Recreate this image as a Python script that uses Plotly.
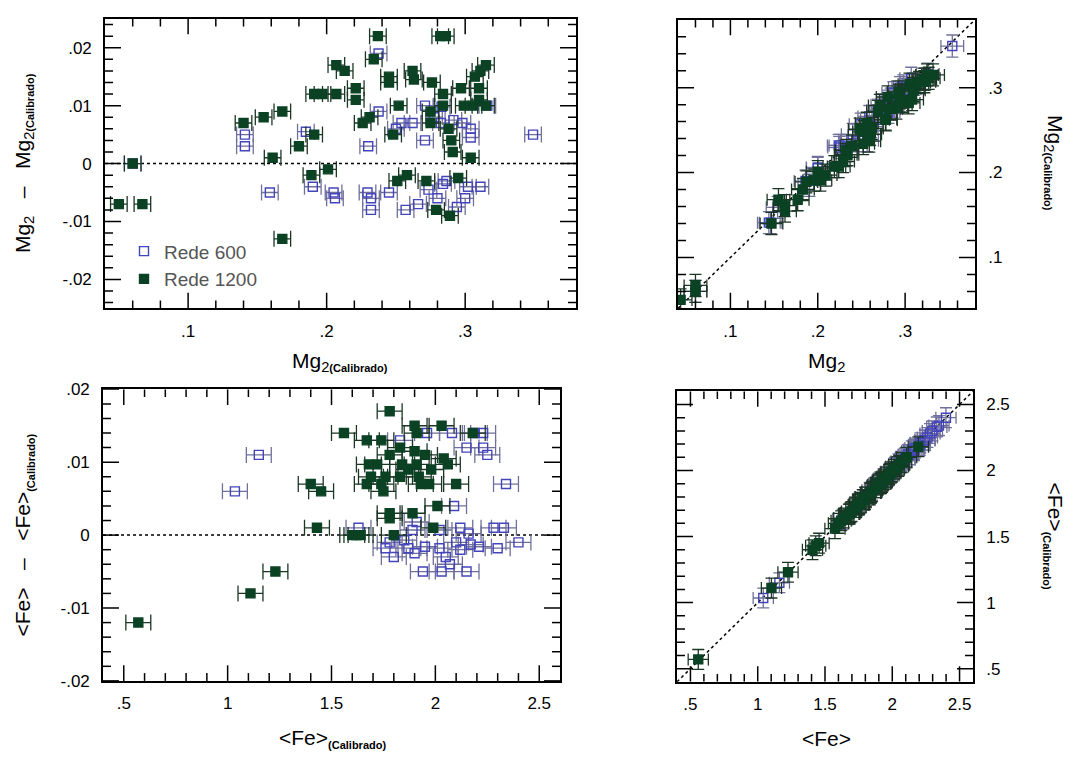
import math
import plotly.graph_objects as go

# ---------------- data ----------------
# Mg2 index: calibrated value and difference (Mg2 - Mg2 calibrated)
mg2_cal_600 = [0.141, 0.141, 0.159, 0.185, 0.190, 0.205, 0.206, 0.230, 0.2295, 0.232, 0.232,
               0.2375, 0.2375, 0.245, 0.250, 0.254, 0.262, 0.257, 0.266, 0.271, 0.271,
               0.2735, 0.280, 0.2775, 0.284, 0.2825, 0.2915, 0.294, 0.298, 0.302, 0.304,
               0.300, 0.311, 0.316, 0.349, 0.304, 0.283, 0.2865, 0.060]
mg2_diff_600 = [0.005, 0.003, -0.005, 0.0055, -0.004, -0.005, -0.006, 0.003, -0.005, -0.006, -0.008,
                0.009, 0.019, -0.005, 0.006, 0.007, 0.007, -0.008, -0.007, 0.004, 0.010,
                -0.0045, -0.006, 0.008, -0.0035, 0.007, 0.0075, -0.0075, 0.007, -0.004, 0.006,
                -0.006, -0.004, 0.010, 0.005, 0.0045, 0.0098, -0.003, 0.000]

mg2_cal_1200 = [0.050, 0.067, 0.060, 0.140, 0.1545, 0.168, 0.161, 0.168, 0.180, 0.191, 0.189,
                0.191, 0.197, 0.207, 0.207, 0.213, 0.201, 0.221, 0.221, 0.226, 0.231,
                0.234, 0.237, 0.245, 0.245, 0.252, 0.248, 0.251, 0.258, 0.262, 0.263,
                0.272, 0.276, 0.275, 0.275, 0.279, 0.282, 0.286, 0.284, 0.284, 0.288,
                0.290, 0.291, 0.289, 0.295, 0.297, 0.299, 0.304, 0.307, 0.311, 0.315,
                0.310, 0.310, 0.306, 0.315]
mg2_diff_1200 = [-0.007, -0.007, 0.000, 0.007, 0.008, 0.009, 0.001, -0.013, 0.003, 0.005, -0.002,
                 0.012, 0.012, 0.012, 0.017, 0.016, -0.001, 0.013, 0.011, 0.007, 0.008,
                 0.018, 0.022, 0.015, 0.014, 0.010, 0.005, -0.003, -0.002, 0.016, 0.0145,
                 -0.003, 0.014, 0.009, 0.007, -0.008, 0.022, 0.022, 0.012, 0.010, 0.006,
                 0.004, 0.002, -0.009, -0.0025, 0.013, 0.010, 0.001, 0.015, 0.016, 0.017,
                 0.013, 0.011, 0.010, 0.010]

# <Fe> index: calibrated value and difference (<Fe> - <Fe> calibrated)
fe_cal_600 = [1.035, 1.15, 1.63, 1.76, 1.80, 1.83, 1.85, 1.89, 1.91, 1.94, 1.96, 1.95,
              2.03, 2.02, 2.05, 2.08, 2.09, 2.10, 2.12, 2.15, 2.15, 2.16, 2.19, 2.21,
              2.23, 2.25, 2.23, 2.28, 2.30, 2.34, 2.33, 2.40, 1.87, 1.78, 2.12, 2.02,
              2.17, 1.90, 2.07]
fe_diff_600 = [0.006, 0.011, 0.001, -0.0018, -0.003, 0.013, -0.0007, 0.0007, 0.0018, -0.005, 0.014, -0.0016,
               -0.005, -0.0018, -0.003, 0.014, 0.004, -0.001, 0.001, -0.005, 0.012, 0.0002, 0.014, -0.0016,
               0.012, 0.011, 0.014, 0.001, -0.0018, 0.007, 0.001, -0.001, -0.0018, -0.001, -0.002, 0.0007,
               -0.0013, -0.0025, -0.004]

fe_cal_1200 = [0.57, 1.11, 1.23, 1.40, 1.45, 1.43, 1.56, 1.60, 1.62, 1.64, 1.67, 1.74,
               1.78, 1.67, 1.68, 1.72, 1.75, 1.76, 1.78, 1.78, 1.78, 1.80, 1.83, 1.84,
               1.83, 1.87, 1.89, 1.90, 1.91, 1.90, 1.91, 1.92, 1.93, 1.97, 1.95, 1.98,
               2.03, 2.01, 1.99, 2.04, 2.06, 2.10, 2.18, 1.74, 1.69]
fe_diff_1200 = [-0.012, -0.008, -0.005, 0.007, 0.006, 0.001, 0.014, 0.000, 0.000, 0.000, 0.013, 0.013,
                0.017, 0.007, 0.0097, 0.0097, 0.006, 0.008, 0.011, 0.0023, 0.003, 0.000, 0.012, 0.0097,
                0.008, 0.009, 0.003, 0.015, 0.014, 0.0115, 0.0097, 0.008, 0.007, 0.007, 0.011, 0.009,
                0.015, 0.004, 0.001, 0.0105, 0.0097, 0.007, 0.014, 0.007, 0.008]

# measurement uncertainties
MG2_ERR_DIFF = 0.006
MG2_ERR = 0.013
FE_ERR_DIFF = 0.06
FE_ERR = 0.075

mg2_600 = [c + d for c, d in zip(mg2_cal_600, mg2_diff_600)]
mg2_1200 = [c + d for c, d in zip(mg2_cal_1200, mg2_diff_1200)]
fe_600 = [c + d for c, d in zip(fe_cal_600, fe_diff_600)]
fe_1200 = [c + d for c, d in zip(fe_cal_1200, fe_diff_1200)]

# tick labels
mg_vals = [0.1, 0.2, 0.3]
mg_text = [".1", ".2", ".3"]
d_vals = [-0.02, -0.01, 0, 0.01, 0.02]
d_text = ["-.02", "-.01", "0", ".01", ".02"]
fe_vals = [0.5, 1, 1.5, 2, 2.5]
fe_text = [".5", "1", "1.5", "2", "2.5"]

# ---------------- styles ----------------
C600 = "#4444bb"
C600_ERR = "#70709a"
C1200 = "#0b4224"
C1200_ERR = "#1c3626"
FONT = "Liberation Sans, Arial, Helvetica, sans-serif"
W, H = 1072, 765
MAJOR_LEN, MINOR_LEN = 16, 8

fig = go.Figure()


def add_series(x, y, xa, ya, open_marker, ex, ey=None, cap=8, name=None, show=False):
    color = C600 if open_marker else C1200
    ecolor = C600_ERR if open_marker else C1200_ERR
    marker = dict(symbol="square-open" if open_marker else "square", size=9,
                  color=color, line=dict(color=color, width=1.4))
    tr = dict(x=x, y=y, mode="markers", marker=marker, xaxis=xa, yaxis=ya,
              name=name, showlegend=show, hoverinfo="x+y",
              error_x=dict(type="constant", value=ex, color=ecolor, thickness=1.3, width=cap))
    if ey is not None:
        tr["error_y"] = dict(type="constant", value=ey, color=ecolor, thickness=1.3, width=cap)
    fig.add_trace(go.Scatter(**tr))


def minor_positions(lo, hi, step, majors):
    out = []
    k = math.ceil(lo / step - 1e-9)
    while k * step < hi - 1e-9:
        v = round(k * step, 10)
        if v > lo + 1e-9 and all(abs(v - m) > step * 1e-3 for m in majors):
            out.append(v)
        k += 1
    return out


tick_shapes = []


def add_box_ticks(xa, ya, xr, yr, wpx, hpx, xmaj, xstep, ymaj, ystep):
    """Inward tick marks on all four sides of a boxed panel."""
    dx = (xr[1] - xr[0]) / wpx
    dy = (yr[1] - yr[0]) / hpx
    style = dict(type="line", xref=xa, yref=ya, layer="above",
                 line=dict(color="black", width=1.5))
    for vals, n in ((xmaj, MAJOR_LEN), (minor_positions(xr[0], xr[1], xstep, xmaj), MINOR_LEN)):
        for v in vals:
            tick_shapes.append(dict(style, x0=v, x1=v, y0=yr[0], y1=yr[0] + n * dy))
            tick_shapes.append(dict(style, x0=v, x1=v, y0=yr[1], y1=yr[1] - n * dy))
    for vals, n in ((ymaj, MAJOR_LEN), (minor_positions(yr[0], yr[1], ystep, ymaj), MINOR_LEN)):
        for v in vals:
            tick_shapes.append(dict(style, x0=xr[0], x1=xr[0] + n * dx, y0=v, y1=v))
            tick_shapes.append(dict(style, x0=xr[1], x1=xr[1] - n * dx, y0=v, y1=v))


def add_reference_line(xa, ya, x0, x1, y0, y1):
    fig.add_trace(go.Scatter(x=[x0, x1], y=[y0, y1], mode="lines", xaxis=xa, yaxis=ya,
                             line=dict(color="black", width=1.5, dash="dot"),
                             hoverinfo="skip", showlegend=False))


def axis(domain, rng, vals, texts, anchor, side, standoff):
    return dict(domain=domain, range=rng, anchor=anchor, side=side, tickmode="array",
                tickvals=vals, ticktext=texts, ticks="", showline=True, linecolor="black",
                linewidth=1.6, mirror=True, showgrid=False, zeroline=False,
                ticklabelstandoff=standoff,
                tickfont=dict(family=FONT, size=17, color="black"))


panels = [
    # axis suffix, pixel box (left, right, top, bottom), x range, y range,
    # x ticks (values, labels, minor step), y ticks, y label side
    ("", (105, 576, 10, 307), [0.04, 0.38], [-0.025, 0.025],
     (mg_vals, mg_text, 0.02), (d_vals, d_text, 0.002), "left"),
    ("2", (678, 975, 11, 307), [0.04, 0.38], [0.04, 0.38],
     (mg_vals, mg_text, 0.02), (mg_vals, mg_text, 0.02), "right"),
    ("3", (103, 560, 390, 689), [0.4, 2.6], [-0.02, 0.02],
     (fe_vals, fe_text, 0.1), (d_vals, d_text, 0.002), "left"),
    ("4", (677, 973, 392, 690), [0.4, 2.6], [0.4, 2.6],
     (fe_vals, fe_text, 0.1), (fe_vals, fe_text, 0.1), "right"),
]

# dotted zero-difference and identity lines go underneath the points
add_reference_line("x", "y", 0.04, 0.38, 0, 0)
add_reference_line("x2", "y2", 0.04, 0.38, 0.04, 0.38)
add_reference_line("x3", "y3", 0.4, 2.6, 0, 0)
add_reference_line("x4", "y4", 0.4, 2.6, 0.4, 2.6)

# top-left: difference vs calibrated Mg2
add_series(mg2_cal_600, mg2_diff_600, "x", "y", True, MG2_ERR_DIFF, cap=8, name="Rede 600", show=True)
add_series(mg2_cal_1200, mg2_diff_1200, "x", "y", False, MG2_ERR_DIFF, cap=8, name="Rede 1200", show=True)
# top-right: Mg2 vs calibrated Mg2
add_series(mg2_600, mg2_cal_600, "x2", "y2", True, MG2_ERR, MG2_ERR, cap=6)
add_series(mg2_1200, mg2_cal_1200, "x2", "y2", False, MG2_ERR, MG2_ERR, cap=6)
# bottom-left: difference vs calibrated <Fe>
add_series(fe_cal_600, fe_diff_600, "x3", "y3", True, FE_ERR_DIFF, cap=8)
add_series(fe_cal_1200, fe_diff_1200, "x3", "y3", False, FE_ERR_DIFF, cap=8)
# bottom-right: <Fe> vs calibrated <Fe>
add_series(fe_600, fe_cal_600, "x4", "y4", True, FE_ERR, FE_ERR, cap=6)
add_series(fe_1200, fe_cal_1200, "x4", "y4", False, FE_ERR, FE_ERR, cap=6)

axes_layout = {}
for sfx, (l, r, t, b), xr, yr, xt, yt, yside in panels:
    xid, yid = "x" + sfx, "y" + sfx
    axes_layout["xaxis" + sfx] = axis([l / W, r / W], xr, xt[0], xt[1], yid, "bottom", 6)
    axes_layout["yaxis" + sfx] = axis([1 - b / H, 1 - t / H], yr, yt[0], yt[1], xid, yside, 8)
    add_box_ticks(xid, yid, xr, yr, r - l, b - t, xt[0], xt[2], yt[0], yt[2])

fig.update_layout(
    width=W, height=H, margin=dict(l=0, r=0, t=0, b=0), plot_bgcolor="white",
    legend=dict(x=124 / W, y=1 - 229 / H, xanchor="left", yanchor="top",
                bgcolor="rgba(0,0,0,0)", font=dict(family=FONT, size=19, color="#555555"),
                tracegroupgap=0, itemwidth=30),
    shapes=tick_shapes,
    **axes_layout,
)

SUB = "<span style='font-size:11px;font-weight:bold'>(Calibrado)</span>"
mg2 = "Mg<sub>2</sub>"
mg2cal = "Mg<sub>2" + SUB + "</sub>"
fecal = "&lt;Fe&gt;<sub>" + SUB + "</sub>"
SEP = "\u00a0\u00a0\u00a0–\u00a0\u00a0\u00a0"


def title(text, x, y, angle=0):
    fig.add_annotation(text=text, x=x / W, y=1 - y / H, xref="paper", yref="paper",
                       showarrow=False, textangle=angle, xanchor="center", yanchor="middle",
                       font=dict(family=FONT, size=21, color="black"))


title(mg2 + SEP + mg2cal, 24, 158, -90)
title(mg2cal, 340, 362)
title(mg2, 826, 362)
title(mg2cal, 1054, 158, 90)
title("&lt;Fe&gt;" + SEP + fecal, 24, 540, -90)
title(fecal, 332, 748)
title("&lt;Fe&gt;", 826, 748)
title(fecal, 1054, 540, 90)

fig.write_html("out.html")
